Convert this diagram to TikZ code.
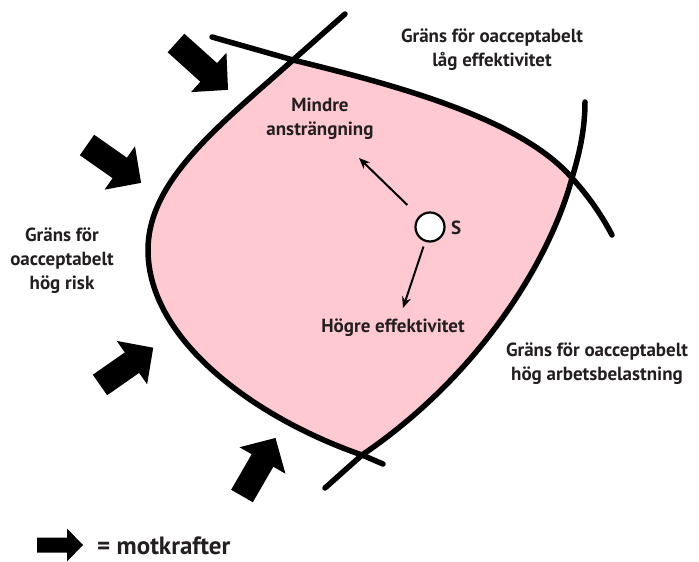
\documentclass[tikz,border=0pt]{standalone}
\usepackage{fontspec}
\setmainfont{PT Sans}
\usetikzlibrary{arrows.meta}
\definecolor{zonepink}{RGB}{255,201,209}
\definecolor{txt}{RGB}{35,30,32}
\tikzset{
  boundary/.style={line width=5.5pt, line cap=round, black},
  lbl/.style={font=\bfseries\fontsize{19}{24}\selectfont, text=txt, align=center, inner sep=0pt},
  dirarrow/.style={line width=2pt, -{Stealth[length=11pt,width=9pt]}, black},
}
% block arrow: #1 tail point, #2 angle, #3 length, #4 shaft width, #5 head width, #6 head length
\newcommand{\blockarr}[6]{%
  \fill[black, shift={(#1)}, rotate=#2]
    (0,-#4/2) -- (#3-#6,-#4/2) -- (#3-#6,-#5/2) -- (#3,0) -- (#3-#6,#5/2) -- (#3-#6,#4/2) -- (0,#4/2) -- cycle;}
\begin{document}
\begin{tikzpicture}[x=1pt,y=-1pt]
\useasboundingbox (0,0) rectangle (699,562);
% pink zone
\fill[zonepink] (293,60) .. controls (220,125) and (148,180) .. (148,250)
  .. controls (148,340) and (255,418) .. (362,455)
  .. controls (480,375) and (550,260) .. (572,178)
  .. controls (520,118) and (395,85) .. (293,60) -- cycle;
% boundaries
\draw[boundary] (345,14) -- (293,60) .. controls (220,125) and (148,180) .. (148,250)
  .. controls (148,340) and (255,418) .. (362,455) -- (383,464);
\draw[boundary] (212,37) -- (293,60) .. controls (395,85) and (520,118) .. (572,178)
  .. controls (590,198) and (602,216) .. (612,235);
\draw[boundary] (585,102) .. controls (585,130) and (579,155) .. (572,178)
  .. controls (550,260) and (480,375) .. (362,455) -- (325,488);
% counter-force arrows
\blockarr{176,43}{-42}{70}{25}{53}{26}
\blockarr{87,145}{-35}{66}{25}{53}{26}
\blockarr{100,385}{35}{65}{25}{53}{26}
\blockarr{242,496}{60}{67}{25}{53}{26}
\blockarr{37,545}{0}{46}{15}{33}{16}
% S
\node[circle, draw=black, line width=2.2pt, fill=white, minimum size=29pt, inner sep=0pt] (S) at (430,227) {};
\node[lbl, anchor=west] (Slbl) at (451,228) {S};
\coordinate (upTip) at (359,158);
\coordinate (downTip) at (403,308);
\draw[dirarrow, shorten <=16pt] (S) -- (upTip);
\draw[dirarrow, shorten <=5pt] (S) -- (downTip);
% labels
\node[lbl] (mindre) at (320,119) {Mindre\\ansträngning};
\node[lbl] (hogre) at (393,328) {Högre effektivitet};
\node[lbl] (lowEff) at (492,50) {Gräns för oacceptabelt\\låg effektivitet};
\node[lbl] (risk) at (62,261) {Gräns för\\oacceptabelt\\hög risk};
\node[lbl] (load) at (597,364) {Gräns för oacceptabelt\\hög arbetsbelastning};
\node[lbl, font=\bfseries\fontsize{25}{28}\selectfont, anchor=west] (legend) at (97,546) {= motkrafter};
\end{tikzpicture}
\end{document}
